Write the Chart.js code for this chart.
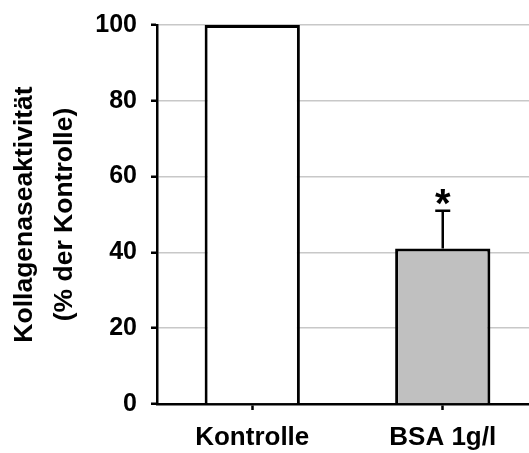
<!DOCTYPE html>
<html>
<head>
<meta charset="utf-8">
<script src="https://cdn.jsdelivr.net/npm/chart.js@4"></script>
<style>
  html, body { margin: 0; padding: 0; overflow: hidden; background: #fff; }
  #wrap { width: 538px; height: 453px; }
</style>
</head>
<body>
<div id="wrap"><canvas id="kollagenChart"></canvas></div>
<script>
// Daten
var kategorien = ["Kontrolle", "BSA 1g/l"];
var werte = [100, 41];
var fehler = [0, 10];
var signifikanz = ["", "*"];
var fuellung = ["#ffffff", "#c0c0c0"];
var yTicks = [0, 20, 40, 60, 80, 100];

var schrift = "Arial, 'Liberation Sans', sans-serif";

// Fehlerbalken und Sternchen
var fehlerPlugin = {
  id: 'fehlerbalken',
  afterDatasetsDraw: function(chart) {
    var ctx = chart.ctx;
    var meta = chart.getDatasetMeta(0);
    var y = chart.scales.y;
    ctx.save();
    meta.data.forEach(function(bar, i) {
      var x = bar.x;
      var oben = y.getPixelForValue(werte[i] + fehler[i]);
      if (fehler[i] > 0) {
        ctx.strokeStyle = '#000';
        ctx.lineWidth = 2.5;
        ctx.beginPath();
        ctx.moveTo(x, bar.y);
        ctx.lineTo(x, oben);
        ctx.moveTo(x - 7.5, oben);
        ctx.lineTo(x + 7.5, oben);
        ctx.stroke();
      }
      if (signifikanz[i]) {
        ctx.fillStyle = '#000';
        ctx.font = 'bold 40px ' + schrift;
        ctx.textAlign = 'center';
        ctx.textBaseline = 'alphabetic';
        ctx.fillText(signifikanz[i], x, oben + 6);
      }
    });
    ctx.restore();
  }
};

var chart = new Chart(document.getElementById('kollagenChart'), {
  type: 'bar',
  data: {
    labels: kategorien,
    datasets: [{
      data: werte,
      backgroundColor: fuellung,
      borderColor: '#000',
      borderWidth: 3,
      barPercentage: 1,
      categoryPercentage: 0.5
    }]
  },
  options: {
    responsive: true,
    maintainAspectRatio: false,
    animation: false,
    layout: { padding: { top: 25, left: 0, right: 0, bottom: 0 } },
    plugins: {
      legend: { display: false },
      tooltip: { enabled: false }
    },
    scales: {
      x: {
        afterFit: function(scale) {
          scale.height = 49;
          scale.paddingLeft = 0;
          scale.paddingRight = 0;
        },
        border: { color: '#000', width: 2.5 },
        grid: {
          offset: false,
          drawOnChartArea: false,
          drawTicks: true,
          tickLength: 6,
          tickColor: '#000',
          tickWidth: 2.5
        },
        ticks: {
          color: '#000',
          padding: 12,
          font: { family: schrift, size: 26, weight: 'bold' }
        }
      },
      y: {
        min: 0,
        max: 100,
        afterFit: function(scale) {
          scale.width = 157;
          scale.paddingTop = 0;
          scale.paddingBottom = 0;
        },
        afterBuildTicks: function(scale) {
          scale.ticks = yTicks.map(function(v) { return { value: v }; });
        },
        border: { color: '#000', width: 2.5 },
        grid: {
          color: '#c8c8c8',
          lineWidth: 1.5,
          drawTicks: true,
          tickLength: 6,
          tickColor: '#000',
          tickWidth: 2.5
        },
        ticks: {
          color: '#000',
          padding: 14,
          font: { family: schrift, size: 25, weight: 'bold' }
        },
        title: {
          display: true,
          text: ['Kollagenaseaktivität', '(% der Kontrolle)'],
          color: '#000',
          padding: { top: 5, bottom: 0 },
          font: { family: schrift, size: 26.5, weight: 'bold', lineHeight: '40px' }
        }
      }
    }
  },
  plugins: [fehlerPlugin]
});
</script>
</body>
</html>
